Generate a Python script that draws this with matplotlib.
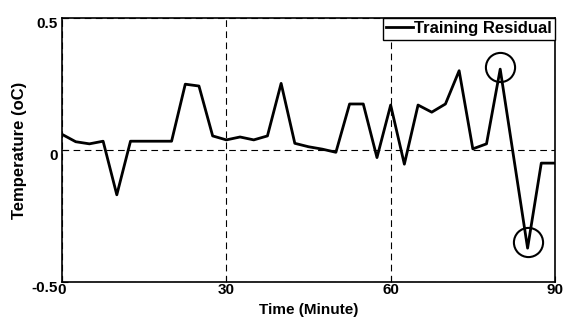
import matplotlib.pyplot as plt
import matplotlib.transforms as mtransforms
import numpy as np

plt.rcParams['font.family'] = ['Liberation Sans', 'DejaVu Sans']
plt.rcParams['font.weight'] = 'bold'

# residual sampled every 2.5 minutes
minutes = np.arange(0, 90.1, 2.5)
residual = [0.059, 0.031, 0.023, 0.033, -0.170, 0.033, 0.033, 0.033, 0.033,
            0.249, 0.242, 0.053, 0.038, 0.049, 0.038, 0.053, 0.252, 0.025,
            0.012, 0.003, -0.009, 0.174, 0.174, -0.029, 0.170, -0.054, 0.170,
            0.143, 0.174, 0.300, 0.004, 0.023, 0.306, -0.033, -0.372, -0.050,
            -0.050]

# highlighted extremes
circle_x = [80, 85]
circle_y = [0.315, -0.347]

fig = plt.figure(figsize=(5.64, 3.2), dpi=100)
ax = fig.add_axes([0.110, 0.119, 0.874, 0.825])

ax.plot(minutes, residual, color='black', lw=2, label='Training Residual')
ax.plot(circle_x, circle_y, 'o', ms=21, mfc='none', mec='black', mew=1.5)

ax.set_xlim(0, 90)
ax.set_ylim(-0.5, 0.5)
ax.set_xticks([0, 30, 60, 90])
ax.set_yticks([-0.5, 0, 0.5])
ax.set_yticklabels(['-0.5', '0', '0.5'])
ax.tick_params(direction='in', labelsize=11, pad=1, length=4)
ax.tick_params(axis='y', pad=3)
# y tick labels sit a little below their ticks in the original
shift = mtransforms.ScaledTranslation(0, -3 / 72, fig.dpi_scale_trans)
for lbl in ax.get_yticklabels():
    lbl.set_transform(lbl.get_transform() + shift)
ax.grid(True, ls=(0, (6, 4)), color='black', lw=0.8)
for s in ax.spines.values():
    s.set_linewidth(1.2)

ax.set_xlabel('Time (Minute)', fontsize=11, fontweight='bold', labelpad=4)
ax.set_ylabel('Temperature (oC)', fontsize=12, fontweight='bold', labelpad=3)

leg = ax.legend(loc='upper right', fontsize=12, handlelength=1.6,
                handletextpad=0.05, borderaxespad=0, borderpad=0.2,
                fancybox=False, framealpha=1)
leg.get_frame().set_edgecolor('black')
leg.get_frame().set_linewidth(1)

fig.savefig('out.png', dpi=100)
